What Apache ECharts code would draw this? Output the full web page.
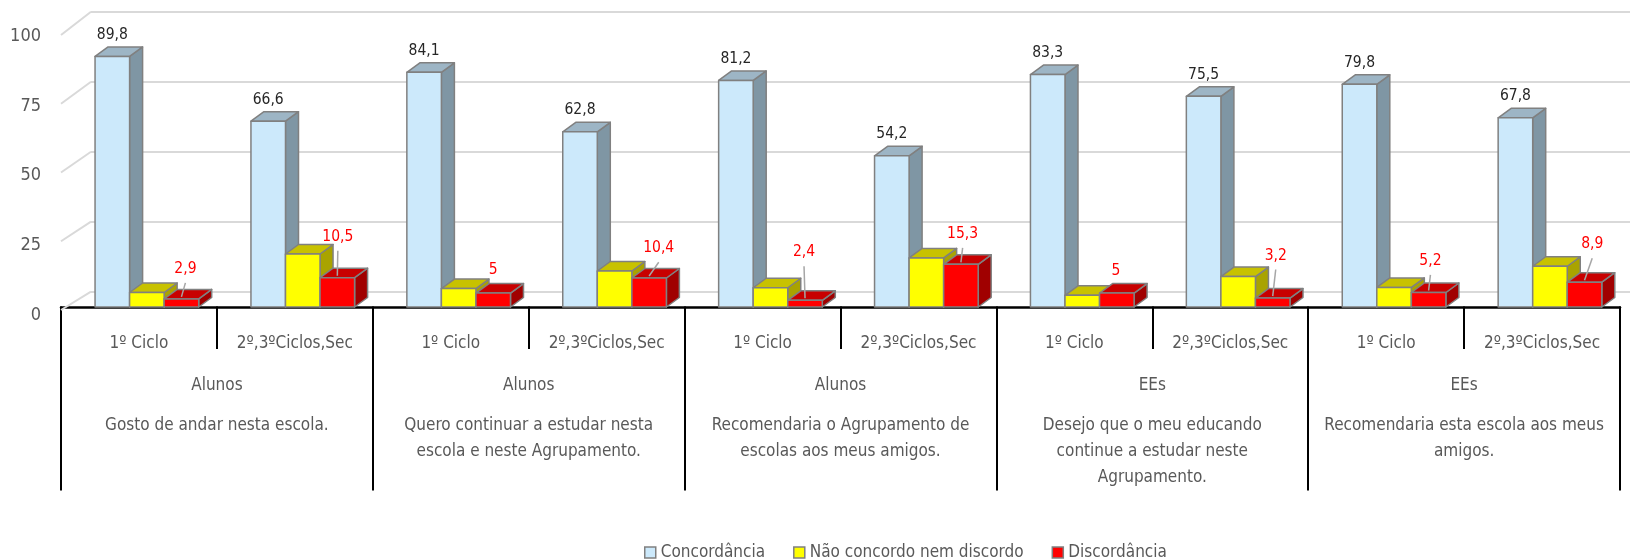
<!DOCTYPE html>
<html>
<head>
<meta charset="utf-8">
<script src="https://cdn.jsdelivr.net/npm/echarts@6/dist/echarts.min.js"></script>
<style>html,body{margin:0;padding:0;background:#fff}#c{width:1630px;height:560px}</style>
</head>
<body>
<div id="c"></div>
<script>
// ---- data ----
const subCategories = ['1º Ciclo','2º,3ºCiclos,Sec','1º Ciclo','2º,3ºCiclos,Sec','1º Ciclo','2º,3ºCiclos,Sec','1º Ciclo','2º,3ºCiclos,Sec','1º Ciclo','2º,3ºCiclos,Sec'];
const groups = ['Alunos','Alunos','Alunos','EEs','EEs'];
const questions = [
  'Gosto de andar nesta escola.',
  'Quero continuar a estudar nesta\nescola e neste Agrupamento.',
  'Recomendaria o Agrupamento de\nescolas aos meus amigos.',
  'Desejo que o meu educando\ncontinue a estudar neste\nAgrupamento.',
  'Recomendaria esta escola aos meus\namigos.'
];
const seriesNames = ['Concordância','Não concordo nem discordo','Discordância'];
const concordancia = [89.8, 66.6, 84.1, 62.8, 81.2, 54.2, 83.3, 75.5, 79.8, 67.8];
const neutro = [5.2, 19.0, 6.6, 12.9, 6.9, 17.6, 4.2, 10.9, 7.0, 14.6];
const discordancia = [2.9, 10.5, 5, 10.4, 2.4, 15.3, 5, 3.2, 5.2, 8.9];
const yTicks = [0, 25, 50, 75, 100];
// label placement (pixel offsets from the bar's front-top centre) for the red labels
const redLabelOffsets = [[4,30],[0.5,41],[0,23],[9.6,29.7],[-1,48],[1.7,30.5],[-1,22],[3,42.6],[1.8,31.6],[7.7,38]];

// ---- styles ----
const FONT = '"DejaVu Sans Condensed","Liberation Sans Narrow",sans-serif';
const palette = [
  {front:'#CCE9FB', top:'#9DB5C5', side:'#7F96A4'},
  {front:'#FFFF00', top:'#C8C200', side:'#A9A300'},
  {front:'#FF0000', top:'#C80000', side:'#A00000'}
];
const DX = 13, DY = -9.5;
const EDGE = '#808080';

function fmt(v){ return String(v).replace('.', ','); }

function makeRender(sIdx){
  return function(params, api){
    const i = api.value(0), v = api.value(1);
    const base = api.coord([i, 0]);
    const top = api.coord([i, v]);
    const w = api.size([1, 0])[0];
    const bw = w * 0.2216;
    const x0 = base[0] - 0.2816 * w + sIdx * bw;
    const x1 = x0 + bw;
    const yT = top[1], yB = base[1];
    const c = palette[sIdx];
    const st = {stroke: EDGE, lineWidth: 1.5, lineJoin: 'round'};
    const children = [
      {type:'polygon', shape:{points:[[x1,yT],[x1+DX,yT+DY],[x1+DX,yB+DY],[x1,yB]]}, style:Object.assign({fill:c.side}, st)},
      {type:'polygon', shape:{points:[[x0,yT],[x0+DX,yT+DY],[x1+DX,yT+DY],[x1,yT]]}, style:Object.assign({fill:c.top}, st)},
      {type:'rect', shape:{x:x0, y:yT, width:bw, height:yB-yT}, style:Object.assign({fill:c.front}, st)}
    ];
    const cx = (x0 + x1) / 2;
    if (sIdx === 0) {
      children.push({type:'text', style:{text: fmt(v), x: cx, y: yT - 21.5, align:'center', verticalAlign:'middle',
        fill:'#262626', fontSize:15.5, fontFamily:FONT}});
    } else if (sIdx === 2) {
      const off = redLabelOffsets[i];
      const lx = cx + off[0], ly = yT - off[1];
      if (off[1] > 26) {
        children.push({type:'line', shape:{x1:lx, y1:ly+14, x2:cx, y2:yT-2}, style:{stroke:'#A6A6A6', lineWidth:1.5}});
      }
      children.push({type:'text', style:{text: fmt(v), x: lx, y: ly, align:'center', verticalAlign:'middle',
        fill:'#FF0000', fontSize:15.5, fontFamily:FONT}});
    }
    return {type:'group', children};
  };
}

function tailRender(params, api){
  const v = api.value(0);
  const back = api.coord([0, v]);
  const zero = api.coord([0, 0]);
  const fy = zero[1] + 18.3 - (zero[1] - back[1]) * (2.75 / 2.8);
  return {type:'line', shape:{x1:back[0], y1:back[1], x2:back[0]-30, y2:fy}, style:{stroke:'#D9D9D9', lineWidth:2}};
}

const catLabelStyle = {color:'#595959', fontSize:17, fontFamily:FONT};

const option = {
  backgroundColor:'#fff',
  animation:false,
  textStyle:{fontFamily:FONT},
  grid:[
    {left:61, right:10, top:28, bottom:253, outerBoundsMode:'none', containLabel:false},          // bars
    {left:91, right:0, top:11.7, bottom:268.3, outerBoundsMode:'none', containLabel:false},       // back wall (gridlines)
    {left:61, right:10, top:36, bottom:244.5, outerBoundsMode:'none', containLabel:false}         // value labels
  ],
  xAxis:[
    {gridIndex:0, type:'category', position:'bottom', data:subCategories, offset:6.5,
      axisLine:{show:true, lineStyle:{color:'#000', width:2.5}},
      axisTick:{show:true, interval:0, length:42, lineStyle:{color:'#000', width:2}},
      axisLabel:Object.assign({interval:0, margin:22}, catLabelStyle), splitLine:{show:false}},
    {gridIndex:0, type:'category', position:'bottom', data:groups, offset:6.5,
      axisLine:{show:false},
      axisTick:{show:true, interval:0, length:177, lineStyle:{color:'#000', width:2}},
      axisLabel:Object.assign({interval:0, margin:63.5}, catLabelStyle)},
    {gridIndex:0, type:'category', position:'bottom', data:questions, offset:6.5,
      axisLine:{show:false}, axisTick:{show:false},
      axisLabel:Object.assign({interval:0, margin:99, lineHeight:26, align:'center'}, catLabelStyle)},
    {gridIndex:0, type:'category', position:'bottom', data:subCategories, offset:6.5,
      axisLine:{show:false},
      axisTick:{show:true, inside:true, interval:0, length:7, lineStyle:{color:'#000', width:2}},
      axisLabel:{show:false}},
    {gridIndex:1, type:'value', min:0, max:1, show:false},
    {gridIndex:2, type:'value', min:0, max:1, show:false}
  ],
  yAxis:[
    {gridIndex:0, type:'value', min:0, max:100, interval:25, show:false},
    {gridIndex:1, type:'value', min:0, max:100, interval:25,
      axisLine:{show:false}, axisTick:{show:false}, axisLabel:{show:false},
      splitLine:{show:true, lineStyle:{color:'#D9D9D9', width:2}}},
    {gridIndex:2, type:'value', min:0, max:100, interval:25,
      axisLine:{show:false}, axisTick:{show:false}, splitLine:{show:false},
      axisLabel:{margin:20, color:'#595959', fontSize:18, fontFamily:FONT}}
  ],
  legend:{
    left:639, top:539, itemWidth:11, itemHeight:11, itemGap:28, icon:'rect',
    textStyle:{color:'#595959', fontSize:17, fontFamily:FONT},
    data: seriesNames.map((n, k) => ({name:n, itemStyle:{color:palette[k].front, borderColor:EDGE, borderWidth:1.5}}))
  },
  series:[
    {type:'custom', name:'tails', xAxisIndex:4, yAxisIndex:1, data:yTicks.map(v => [v]), renderItem:tailRender, silent:true, z:1},
    {type:'custom', name:seriesNames[0], xAxisIndex:0, yAxisIndex:0, itemStyle:{color:palette[0].front},
      data:concordancia.map((v,i)=>[i,v]), encode:{x:0,y:1}, renderItem:makeRender(0), z:3},
    {type:'custom', name:seriesNames[1], xAxisIndex:0, yAxisIndex:0, itemStyle:{color:palette[1].front},
      data:neutro.map((v,i)=>[i,v]), encode:{x:0,y:1}, renderItem:makeRender(1), z:3},
    {type:'custom', name:seriesNames[2], xAxisIndex:0, yAxisIndex:0, itemStyle:{color:palette[2].front},
      data:discordancia.map((v,i)=>[i,v]), encode:{x:0,y:1}, renderItem:makeRender(2), z:3}
  ]
};
const chart = echarts.init(document.getElementById('c'), null, {renderer:'canvas'});
chart.setOption(option);
</script>
</body>
</html>
